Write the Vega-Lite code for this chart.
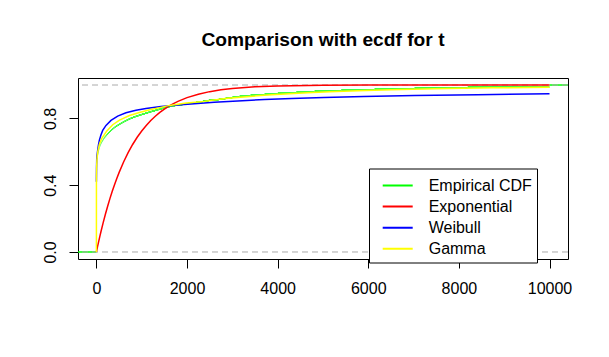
{
  "$schema": "https://vega.github.io/schema/vega-lite/v6.json",
  "width": 490,
  "height": 181,
  "autosize": {"type": "none"},
  "padding": {"left": 78, "top": 78, "right": 41, "bottom": 98},
  "background": "white",
  "title": {"text": "Comparison with ecdf for t", "font": "Liberation Sans", "fontSize": 19.2, "fontWeight": "bold", "color": "black", "anchor": "middle", "frame": "group", "offset": 28},
  "datasets": {
    "ecdf": [
      {"x": -500, "x2": 0.5, "y": 0},
      {"x": 0.5, "x2": 2, "y": 0.4192},
      {"x": 2, "x2": 6, "y": 0.503},
      {"x": 6, "x2": 15, "y": 0.5389},
      {"x": 15, "x2": 22, "y": 0.5629},
      {"x": 22, "x2": 26, "y": 0.5689},
      {"x": 26, "x2": 30, "y": 0.5749},
      {"x": 30, "x2": 35, "y": 0.5808},
      {"x": 35, "x2": 39, "y": 0.5868},
      {"x": 39, "x2": 44, "y": 0.5928},
      {"x": 44, "x2": 49, "y": 0.5988},
      {"x": 49, "x2": 54, "y": 0.6048},
      {"x": 54, "x2": 59, "y": 0.6108},
      {"x": 59, "x2": 64, "y": 0.6168},
      {"x": 64, "x2": 70, "y": 0.6228},
      {"x": 70, "x2": 78, "y": 0.6287},
      {"x": 78, "x2": 85, "y": 0.6347},
      {"x": 85, "x2": 93, "y": 0.6407},
      {"x": 93, "x2": 104, "y": 0.6467},
      {"x": 104, "x2": 114, "y": 0.6527},
      {"x": 114, "x2": 126, "y": 0.6587},
      {"x": 126, "x2": 139, "y": 0.6647},
      {"x": 139, "x2": 152, "y": 0.6707},
      {"x": 152, "x2": 165, "y": 0.6766},
      {"x": 165, "x2": 181, "y": 0.6826},
      {"x": 181, "x2": 199, "y": 0.6886},
      {"x": 199, "x2": 217, "y": 0.6946},
      {"x": 217, "x2": 236, "y": 0.7006},
      {"x": 236, "x2": 257, "y": 0.7066},
      {"x": 257, "x2": 278, "y": 0.7126},
      {"x": 278, "x2": 300, "y": 0.7186},
      {"x": 300, "x2": 323, "y": 0.7246},
      {"x": 323, "x2": 346, "y": 0.7305},
      {"x": 346, "x2": 372, "y": 0.7365},
      {"x": 372, "x2": 400, "y": 0.7425},
      {"x": 400, "x2": 430, "y": 0.7485},
      {"x": 430, "x2": 464, "y": 0.7545},
      {"x": 464, "x2": 501, "y": 0.7605},
      {"x": 501, "x2": 539, "y": 0.7665},
      {"x": 539, "x2": 577, "y": 0.7725},
      {"x": 577, "x2": 616, "y": 0.7784},
      {"x": 616, "x2": 660, "y": 0.7844},
      {"x": 660, "x2": 704, "y": 0.7904},
      {"x": 704, "x2": 752, "y": 0.7964},
      {"x": 752, "x2": 807, "y": 0.8024},
      {"x": 807, "x2": 866, "y": 0.8084},
      {"x": 866, "x2": 932, "y": 0.8144},
      {"x": 932, "x2": 1001, "y": 0.8204},
      {"x": 1001, "x2": 1072, "y": 0.8263},
      {"x": 1072, "x2": 1144, "y": 0.8323},
      {"x": 1144, "x2": 1217, "y": 0.8383},
      {"x": 1217, "x2": 1295, "y": 0.8443},
      {"x": 1295, "x2": 1372, "y": 0.8503},
      {"x": 1372, "x2": 1453, "y": 0.8563},
      {"x": 1453, "x2": 1540, "y": 0.8623},
      {"x": 1540, "x2": 1620, "y": 0.8683},
      {"x": 1620, "x2": 1740, "y": 0.8743},
      {"x": 1740, "x2": 1900, "y": 0.8802},
      {"x": 1900, "x2": 2030, "y": 0.8862},
      {"x": 2030, "x2": 2200, "y": 0.8922},
      {"x": 2200, "x2": 2350, "y": 0.8982},
      {"x": 2350, "x2": 2480, "y": 0.9042},
      {"x": 2480, "x2": 2700, "y": 0.9102},
      {"x": 2700, "x2": 2850, "y": 0.9162},
      {"x": 2850, "x2": 3000, "y": 0.9222},
      {"x": 3000, "x2": 3160, "y": 0.9281},
      {"x": 3160, "x2": 3400, "y": 0.9341},
      {"x": 3400, "x2": 3710, "y": 0.9401},
      {"x": 3710, "x2": 4004, "y": 0.9461},
      {"x": 4004, "x2": 4410, "y": 0.9521},
      {"x": 4410, "x2": 4814, "y": 0.9581},
      {"x": 4814, "x2": 5402, "y": 0.9641},
      {"x": 5402, "x2": 6137, "y": 0.9701},
      {"x": 6137, "x2": 7019, "y": 0.976},
      {"x": 7019, "x2": 8194, "y": 0.982},
      {"x": 8194, "x2": 10000, "y": 0.988},
      {"x": 10000, "x2": 10500, "y": 1}
    ],
    "ref01": [{"y": 0}, {"y": 1}],
    "expo": [
      {"x": 0, "y": 0}, {"x": 25, "y": 0.0317}, {"x": 50, "y": 0.0625}, {"x": 75, "y": 0.0922},
      {"x": 100, "y": 0.121}, {"x": 150, "y": 0.176}, {"x": 200, "y": 0.2274}, {"x": 250, "y": 0.2757},
      {"x": 300, "y": 0.321}, {"x": 350, "y": 0.3634}, {"x": 400, "y": 0.4032}, {"x": 450, "y": 0.4404},
      {"x": 500, "y": 0.4754}, {"x": 600, "y": 0.5389}, {"x": 700, "y": 0.5947}, {"x": 800, "y": 0.6438},
      {"x": 900, "y": 0.6869}, {"x": 1000, "y": 0.7248}, {"x": 1100, "y": 0.7581}, {"x": 1200, "y": 0.7874},
      {"x": 1300, "y": 0.8131}, {"x": 1400, "y": 0.8357}, {"x": 1500, "y": 0.8556}, {"x": 1600, "y": 0.8731},
      {"x": 1700, "y": 0.8885}, {"x": 1800, "y": 0.902}, {"x": 2000, "y": 0.9243}, {"x": 2250, "y": 0.9451},
      {"x": 2500, "y": 0.9603}, {"x": 2750, "y": 0.9712}, {"x": 3000, "y": 0.9792}, {"x": 3500, "y": 0.9891},
      {"x": 4000, "y": 0.9943}, {"x": 5000, "y": 0.9984}, {"x": 6000, "y": 0.9996}, {"x": 7000, "y": 0.9999},
      {"x": 8000, "y": 1}, {"x": 10000, "y": 1}
    ],
    "weib": [
      {"x": 0, "y": 0.42}, {"x": 3, "y": 0.5}, {"x": 7, "y": 0.553}, {"x": 15, "y": 0.58},
      {"x": 29, "y": 0.61}, {"x": 45, "y": 0.64}, {"x": 66, "y": 0.67}, {"x": 100, "y": 0.7},
      {"x": 139, "y": 0.728}, {"x": 212, "y": 0.758}, {"x": 322, "y": 0.788}, {"x": 470, "y": 0.814},
      {"x": 653, "y": 0.834}, {"x": 873, "y": 0.849}, {"x": 1094, "y": 0.86}, {"x": 1425, "y": 0.871},
      {"x": 1793, "y": 0.881}, {"x": 2234, "y": 0.89}, {"x": 2600, "y": 0.897}, {"x": 3220, "y": 0.906},
      {"x": 3710, "y": 0.913}, {"x": 4310, "y": 0.919}, {"x": 5020, "y": 0.925}, {"x": 5900, "y": 0.931},
      {"x": 7020, "y": 0.937}, {"x": 8410, "y": 0.942}, {"x": 10000, "y": 0.947}
    ],
    "gam": [
      {"x": 0, "y": 0}, {"x": 1, "y": 0.45}, {"x": 4, "y": 0.5}, {"x": 12, "y": 0.55},
      {"x": 30, "y": 0.6}, {"x": 66, "y": 0.645}, {"x": 120, "y": 0.68}, {"x": 230, "y": 0.725},
      {"x": 360, "y": 0.762}, {"x": 510, "y": 0.79}, {"x": 730, "y": 0.817}, {"x": 950, "y": 0.835},
      {"x": 1200, "y": 0.853}, {"x": 1420, "y": 0.866}, {"x": 1616, "y": 0.878}, {"x": 1985, "y": 0.892},
      {"x": 2390, "y": 0.902}, {"x": 2610, "y": 0.911}, {"x": 2850, "y": 0.919}, {"x": 3180, "y": 0.927},
      {"x": 3540, "y": 0.935}, {"x": 3870, "y": 0.942}, {"x": 4260, "y": 0.948}, {"x": 4660, "y": 0.954},
      {"x": 5150, "y": 0.96}, {"x": 5770, "y": 0.966}, {"x": 6510, "y": 0.972}, {"x": 7460, "y": 0.978},
      {"x": 8720, "y": 0.983}, {"x": 10000, "y": 0.987}
    ]
  },
  "layer": [
    {
      "data": {"name": "ecdf"},
      "mark": {"type": "rule", "strokeWidth": 1.5, "clip": true},
      "encoding": {
        "x": {"field": "x", "type": "quantitative", "title": null,
              "scale": {"domain": [-406, 10408], "nice": false, "zero": false},
              "axis": {"values": [0, 2000, 4000, 6000, 8000, 10000], "format": "d", "labelPadding": 12}},
        "x2": {"field": "x2"},
        "y": {"field": "y", "type": "quantitative", "title": null,
              "scale": {"domain": [-0.042, 1.042], "nice": false, "zero": false},
              "axis": {"values": [0, 0.2, 0.4, 0.6, 0.8, 1],
                       "labelExpr": "datum.value == 0 ? '0.0' : datum.value == 0.4 ? '0.4' : datum.value == 0.8 ? '0.8' : ''",
                       "labelAngle": 270, "labelAlign": "center", "labelBaseline": "alphabetic", "labelPadding": 14}},
        "color": {"datum": "Empirical CDF", "type": "nominal",
                  "scale": {"domain": ["Empirical CDF", "Exponential", "Weibull", "Gamma"],
                            "range": ["#00ff00", "#ff0000", "#0000ff", "#ffff00"]},
                  "legend": {"title": " ", "titleFontSize": 4, "titlePadding": 0, "orient": "none", "legendX": 291, "legendY": 90.5,
                             "fillColor": "white", "strokeColor": "black", "cornerRadius": 0,
                             "padding": 5, "symbolType": "stroke", "symbolSize": 900, "symbolStrokeWidth": 2,
                             "clipHeight": 16, "rowPadding": 5.1, "symbolOffset": 7.7, "labelOffset": 15,
                             "labelFont": "Liberation Sans", "labelFontSize": 16, "labelColor": "black", "labelLimit": 300}}
      }
    },
    {
      "data": {"name": "ref01"},
      "mark": {"type": "rule", "color": "#aaaaaa", "strokeWidth": 1, "strokeDash": [6, 4]},
      "encoding": {
        "y": {"field": "y", "type": "quantitative", "title": null}
      }
    },
    {
      "data": {"name": "expo"},
      "mark": {"type": "line", "strokeWidth": 1.5, "clip": true},
      "encoding": {
        "x": {"field": "x", "type": "quantitative", "title": null},
        "y": {"field": "y", "type": "quantitative", "title": null},
        "color": {"datum": "Exponential", "type": "nominal"}
      }
    },
    {
      "data": {"name": "weib"},
      "mark": {"type": "line", "strokeWidth": 1.5, "clip": true},
      "encoding": {
        "x": {"field": "x", "type": "quantitative", "title": null},
        "y": {"field": "y", "type": "quantitative", "title": null},
        "color": {"datum": "Weibull", "type": "nominal"}
      }
    },
    {
      "data": {"name": "gam"},
      "mark": {"type": "line", "strokeWidth": 1.5, "clip": true},
      "encoding": {
        "x": {"field": "x", "type": "quantitative", "title": null},
        "y": {"field": "y", "type": "quantitative", "title": null},
        "color": {"datum": "Gamma", "type": "nominal"}
      }
    }
  ],
  "config": {
    "view": {"stroke": "black", "strokeWidth": 1},
    "axis": {"domain": false, "grid": false, "ticks": true, "tickColor": "black", "tickSize": 9, "tickWidth": 1,
             "labelFont": "Liberation Sans", "labelFontSize": 16, "labelColor": "black", "labelFlush": false, "labelOverlap": false},
    "legend": {"strokeWidth": 1}
  }
}
